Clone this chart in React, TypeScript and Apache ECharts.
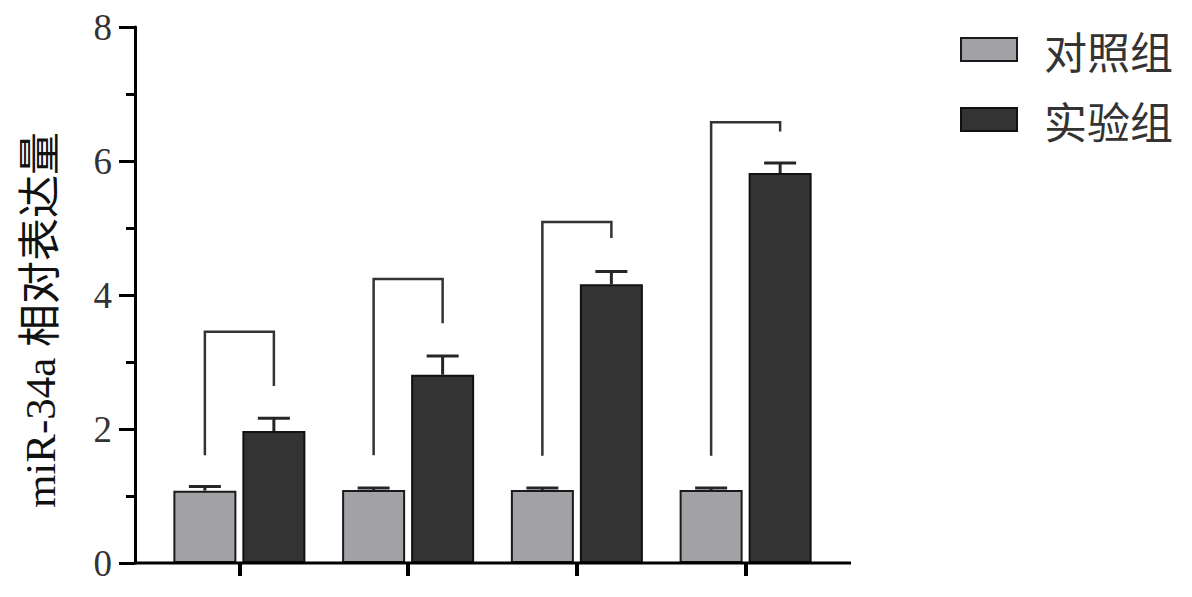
import React, { useEffect, useRef } from "react";
import * as echarts from "echarts";

const categories = ["A", "B", "C", "D"];
const seriesNames = ["对照组", "实验组"];
const controlValues = [1.08, 1.09, 1.09, 1.09];
const controlErrors = [0.06, 0.03, 0.03, 0.03];
const experimentValues = [1.97, 2.81, 4.16, 5.82];
const experimentErrors = [0.19, 0.28, 0.19, 0.15];
const bracketTop = [3.45, 4.24, 5.09, 6.58];
const bracketLeftBottom = [1.61, 1.61, 1.6, 1.6];
const bracketRightBottom = [2.64, 3.58, 4.85, 6.44];
const yMin = 0;
const yMax = 8;
const yInterval = 2;
const yTitle = "miR-34a 相对表达量";

const BAR_W = 63;
const BAR_GAP_PX = 6;
const HALF = (BAR_W + BAR_GAP_PX) / 2;

export default function App() {
  const ref = useRef<HTMLDivElement>(null);
  useEffect(() => {
    if (!ref.current) return;
    const chart = echarts.init(ref.current, undefined, { renderer: "svg" });

    const errData = (vals: number[], errs: number[]) =>
      vals.map((v, i) => [i, v, errs[i]]);

    const errSeries = (vals: number[], errs: number[], sign: number) => ({
      type: "custom",
      silent: true,
      z: 5,
      encode: { x: 0, y: 1 },
      data: errData(vals, errs),
      renderItem: (params: any, api: any) => {
        const i = api.value(0);
        const v = api.value(1);
        const e = api.value(2);
        const base = api.coord([i, v]);
        const top = api.coord([i, v + e]);
        const xc = base[0] + sign * HALF;
        return {
          type: "group",
          children: [
            {
              type: "line",
              shape: { x1: xc, y1: base[1], x2: xc, y2: top[1] },
              style: { stroke: "#262626", lineWidth: 3 },
            },
            {
              type: "line",
              shape: { x1: xc - 16, y1: top[1], x2: xc + 16, y2: top[1] },
              style: { stroke: "#262626", lineWidth: 3 },
            },
          ],
        };
      },
    });

    chart.setOption({
      animation: false,
      grid: { left: 155, right: 362, top: 27, bottom: 34 },
      legend: {
        data: seriesNames,
        orient: "vertical",
        left: 960,
        top: 28,
        padding: 0,
        itemWidth: 56,
        itemHeight: 23,
        itemGap: 27,
        icon: "rect",
        textStyle: {
          fontSize: 43,
          lineHeight: 43,
          color: "#333",
          fontFamily: '"Noto Sans CJK SC", sans-serif',
          padding: [0, 0, 0, 22],
        },
      },
      xAxis: {
        type: "category",
        data: categories,
        axisLine: { show: false },
        axisTick: {
          show: true,
          alignWithLabel: true,
          length: 13,
          lineStyle: { color: "#000", width: 4 },
        },
        axisLabel: { show: false },
        splitLine: { show: false },
      },
      yAxis: {
        type: "value",
        min: yMin,
        max: yMax,
        interval: yInterval,
        offset: 20,
        axisLine: { show: true, lineStyle: { color: "#000", width: 3 } },
        axisTick: { show: true, length: 16, lineStyle: { color: "#000", width: 3 } },
        minorTick: { show: true, splitNumber: 2, length: 9, lineStyle: { color: "#000", width: 3 } },
        axisLabel: {
          margin: 23,
          fontSize: 37,
          color: "#333",
          fontFamily: '"Liberation Serif", "Times New Roman", serif',
        },
        splitLine: { show: false },
      },
      series: [
        {
          name: seriesNames[0],
          type: "bar",
          data: controlValues,
          barWidth: BAR_W,
          barGap: `${(BAR_GAP_PX / BAR_W) * 100}%`,
          itemStyle: { color: "#a2a2a6", borderColor: "#1a1a1a", borderWidth: 2 },
        },
        {
          name: seriesNames[1],
          type: "bar",
          data: experimentValues,
          barWidth: BAR_W,
          itemStyle: { color: "#333333", borderColor: "#111", borderWidth: 2 },
        },
        errSeries(controlValues, controlErrors, -1),
        errSeries(experimentValues, experimentErrors, 1),
        {
          type: "custom",
          silent: true,
          z: 6,
          encode: { x: 0, y: 1 },
          data: bracketTop.map((t, i) => [i, t, bracketLeftBottom[i], bracketRightBottom[i]]),
          renderItem: (params: any, api: any) => {
            const i = api.value(0);
            const t = api.coord([i, api.value(1)]);
            const lb = api.coord([i, api.value(2)]);
            const rb = api.coord([i, api.value(3)]);
            const gx = t[0] - HALF;
            const dx = t[0] + HALF;
            return {
              type: "polyline",
              shape: {
                points: [
                  [gx, lb[1]],
                  [gx, t[1]],
                  [dx, t[1]],
                  [dx, rb[1]],
                ],
              },
              style: { stroke: "#333", lineWidth: 2.5, fill: "none" },
            };
          },
        },
      ],
      graphic: [
        {
          type: "line",
          shape: { x1: 134, y1: 563, x2: 851, y2: 563 },
          style: { stroke: "#000", lineWidth: 3 },
          z: 10,
        },
        {
          type: "text",
          x: 40,
          y: 320,
          rotation: Math.PI / 2,
          style: {
            text: yTitle,
            align: "center",
            verticalAlign: "middle",
            font: '43px "Liberation Serif", "Noto Sans CJK SC", serif',
            fill: "#111",
          },
        },
      ],
    });
    return () => chart.dispose();
  }, []);
  return (
    <div
      ref={ref}
      style={{ position: "fixed", left: 0, top: 0, width: 1192, height: 597, background: "#fff" }}
    />
  );
}
